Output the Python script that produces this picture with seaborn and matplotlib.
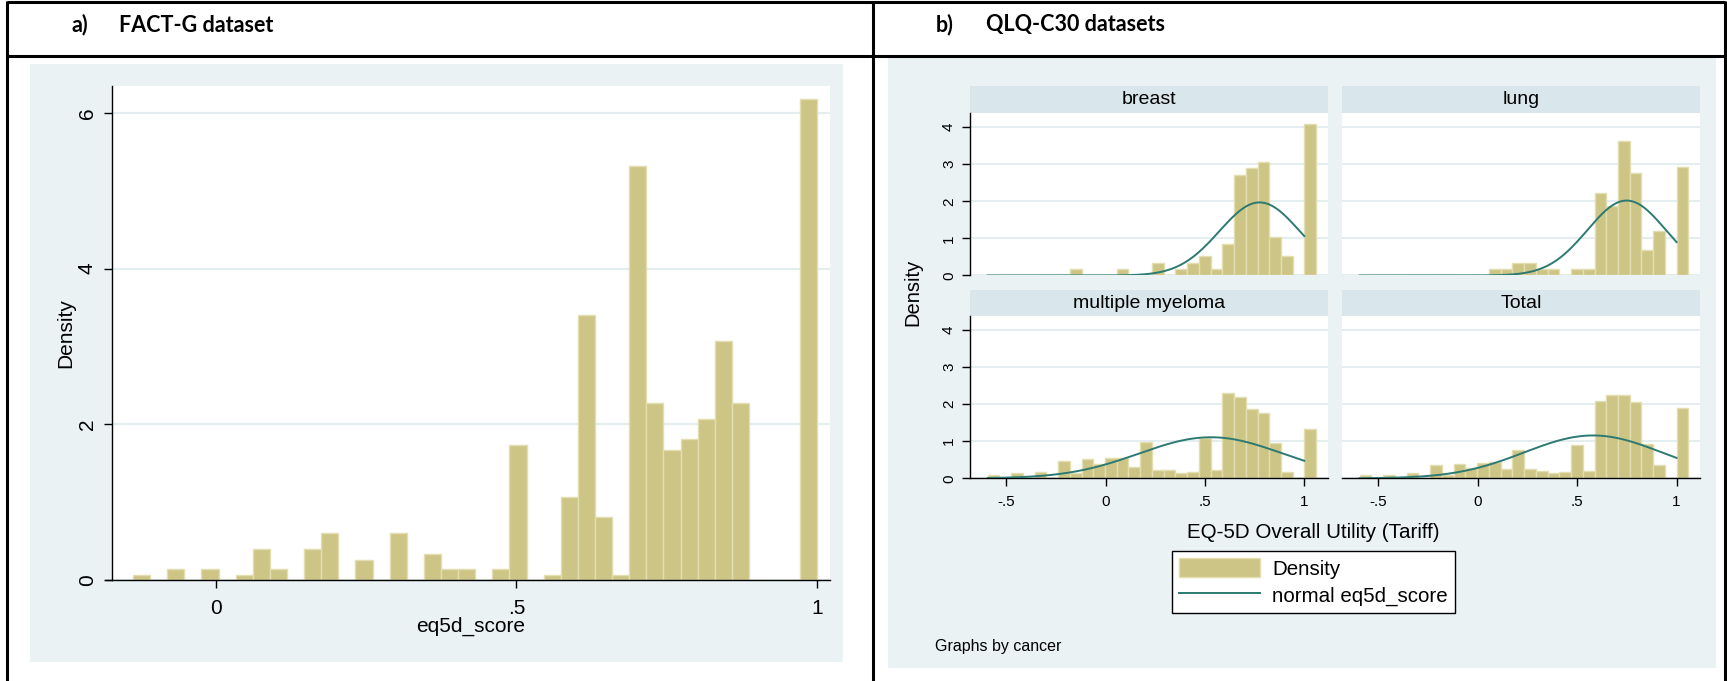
import numpy as np
import pandas as pd
import matplotlib
matplotlib.use("Agg")
import matplotlib.pyplot as plt
import seaborn as sns
from matplotlib.lines import Line2D
from matplotlib.patches import Rectangle

# ---------------- data ----------------
# a) FACT-G dataset histogram (40 bins)
a_bin_start = -0.137
a_bin_width = 0.028425
a_n_bins = 40
a_bin_index = [0, 2, 4, 6, 7, 8, 10, 11, 13, 15, 17, 18, 19, 21, 22, 24, 25,
               26, 27, 28, 29, 30, 31, 32, 33, 34, 35, 39]
a_density = [0.069, 0.142, 0.142, 0.069, 0.396, 0.142, 0.396, 0.606, 0.262,
             0.606, 0.34, 0.142, 0.142, 0.142, 1.733, 0.069, 1.067, 3.407,
             0.804, 0.069, 5.318, 2.275, 1.669, 1.81, 2.069, 3.075, 2.275, 6.183]
a_xticks = [0, 0.5, 1]
a_xticklabels = ["0", ".5", "1"]
a_yticks = [0, 2, 4, 6]

# b) QLQ-C30 datasets (28 common bins)
b_bin_start = -0.594
b_bin_width = 0.05907
b_n_bins = 28
panel_names = ["breast", "lung", "multiple myeloma", "Total"]
breast_index = [7, 11, 14, 16, 17, 18, 19, 20, 21, 22, 23, 24, 25, 27]
breast_density = [0.17, 0.17, 0.33, 0.17, 0.33, 0.52, 0.17, 0.86, 2.72, 2.89,
                  3.06, 1.03, 0.52, 4.09]
lung_index = [11, 12, 13, 14, 15, 16, 18, 19, 20, 21, 22, 23, 24, 25, 27]
lung_density = [0.17, 0.17, 0.35, 0.35, 0.17, 0.17, 0.17, 0.17, 2.23, 1.88,
                3.62, 2.75, 0.70, 1.20, 2.92]
mm_index = [0, 2, 4, 6, 7, 8, 9, 10, 11, 12, 13, 14, 15, 16, 17, 18, 19, 20,
            21, 22, 23, 24, 25, 27]
mm_density = [0.08, 0.13, 0.18, 0.47, 0.15, 0.51, 0.38, 0.54, 0.54, 0.30, 0.98,
              0.22, 0.23, 0.13, 0.18, 1.10, 0.22, 2.29, 2.20, 1.87, 1.75, 0.96,
              0.18, 1.34]
total_index = [0, 2, 4, 6, 7, 8, 9, 10, 11, 12, 13, 14, 15, 16, 17, 18, 19, 20,
               21, 22, 23, 24, 25, 27]
total_density = [0.08, 0.08, 0.14, 0.36, 0.10, 0.38, 0.29, 0.41, 0.44, 0.24,
                 0.76, 0.24, 0.20, 0.14, 0.18, 0.91, 0.20, 2.09, 2.24, 2.24,
                 2.05, 0.92, 0.35, 1.89]
# fitted normal overlay (mean, sd) per panel
normal_mean = [0.775, 0.749, 0.53, 0.58]
normal_sd = [0.2025, 0.1975, 0.36, 0.345]
score_min, score_max = -0.594, 1.0
b_xticks = [-0.5, 0, 0.5, 1]
b_xticklabels = ["-.5", "0", ".5", "1"]
b_yticks = [0, 1, 2, 3, 4]

# ---------------- style ----------------
BG = "#EAF2F3"
STRIP = "#D9E6EB"
GRID = "#E4EDF0"
FILL = "#CDC585"
EDGE = "#E3DEAF"
LINE = "#2C7A72"
FONT = ["Liberation Sans", "DejaVu Sans"]
HFONT = ["Lato", "DejaVu Sans"]

plt.rcParams["font.family"] = FONT

W, H, DPI = 1727, 681, 100
fig = plt.figure(figsize=(W / DPI, H / DPI), dpi=DPI)
fig.patch.set_facecolor("white")


def box(x0, y0, x1, y1):
    return [x0 / W, 1 - y1 / H, (x1 - x0) / W, (y1 - y0) / H]


def fline(x0, y0, x1, y1, lw=2.2, color="black", z=5):
    fig.add_artist(Line2D([x0 / W, x1 / W], [1 - y0 / H, 1 - y1 / H],
                          transform=fig.transFigure, color=color, lw=lw,
                          solid_capstyle="butt", zorder=z))


def frect(x0, y0, x1, y1, color):
    fig.add_artist(Rectangle((x0 / W, 1 - y1 / H), (x1 - x0) / W, (y1 - y0) / H,
                             transform=fig.transFigure, facecolor=color,
                             edgecolor="none", zorder=0))


def ftext(x, y, s, **kw):
    fig.text(x / W, 1 - y / H, s, **kw)


def hist(ax, start, width, nbins, idx, dens):
    edges = [start + width * k for k in range(nbins + 1)]
    df = pd.DataFrame({"score": [start + width * (i + 0.5) for i in idx],
                       "density": dens})
    sns.histplot(data=df, x="score", weights="density", bins=edges,
                 stat="count", color=FILL, edgecolor=EDGE, linewidth=1.0,
                 alpha=1, ax=ax, zorder=2)


# table frame
fline(7, 2, 1725, 2)
fline(7, 56, 1725, 56)
fline(7, 1, 7, 681)
fline(873, 1, 873, 681)
fline(1725, 1, 1725, 681)

# headers
ftext(72, 25, "a)", fontsize=15.5, family=HFONT, weight="bold", va="center")
ftext(119, 25, "FACT-G dataset", fontsize=15.5, family=HFONT, weight="bold", va="center")
ftext(936, 25, "b)", fontsize=15.5, family=HFONT, weight="bold", va="center")
ftext(986, 25, "QLQ-C30 datasets", fontsize=15.5, family=HFONT, weight="bold", va="center")

# grey graph regions
frect(30, 64, 843, 662, BG)
frect(888, 58, 1716, 668, BG)

# ---------------- panel a ----------------
axa = fig.add_axes(box(112, 86, 830, 580))
axa.set_facecolor("white")
hist(axa, a_bin_start, a_bin_width, a_n_bins, a_bin_index, a_density)
axa.set_xlim(-0.172, 1.021)
axa.set_ylim(0, 6.347)
axa.set_xticks(a_xticks)
axa.set_xticklabels(a_xticklabels)
axa.set_yticks(a_yticks)
axa.set_yticklabels([str(v) for v in a_yticks], rotation=90, va="center")
axa.tick_params(axis="x", length=6, width=1, pad=8, labelsize=15)
axa.tick_params(axis="y", length=6, width=1, pad=5, labelsize=15)
axa.yaxis.grid(True, color=GRID, lw=1.6)
axa.set_axisbelow(True)
for s in ["top", "right"]:
    axa.spines[s].set_visible(False)
for s in ["left", "bottom"]:
    axa.spines[s].set_color("black")
    axa.spines[s].set_linewidth(1)
axa.set_xlabel("")
axa.set_ylabel("")
# x axis line runs a little left of the y axis, as in Stata
fline(105, 580, 112, 580, lw=1, z=3)
ftext(471, 626, "eq5d_score", fontsize=15, ha="center", va="center")
ftext(66, 333, "Density", fontsize=15, ha="center", va="center", rotation=90)

# ---------------- panel b ----------------
b_idx = [breast_index, lung_index, mm_index, total_index]
b_den = [breast_density, lung_density, mm_density, total_density]
cols = [(970, 1327.7), (1342, 1700)]
rows = [(86, 113, 275.5), (290, 316, 478.3)]
curve_x = np.linspace(score_min, score_max, 300)

axes_b = []
for p, name in enumerate(panel_names):
    r, c = divmod(p, 2)
    x0, x1 = cols[c]
    s0, s1, yb = rows[r]
    # strip
    axs = fig.add_axes(box(x0, s0, x1, s1))
    axs.set_facecolor(STRIP)
    axs.set_xticks([])
    axs.set_yticks([])
    for sp in axs.spines.values():
        sp.set_visible(False)
    axs.text(0.5, 0.5, name, transform=axs.transAxes, ha="center",
             va="center", fontsize=14)
    # plot
    ax = fig.add_axes(box(x0, s1, x1, yb))
    ax.set_facecolor("white")
    hist(ax, b_bin_start, b_bin_width, b_n_bins, b_idx[p], b_den[p])
    mu, sd = normal_mean[p], normal_sd[p]
    curve_y = np.exp(-0.5 * ((curve_x - mu) / sd) ** 2) / (sd * np.sqrt(2 * np.pi))
    sns.lineplot(x=curve_x, y=curve_y, ax=ax, color=LINE, lw=1.4, zorder=3)
    ax.set_xlim(-0.683, 1.118)
    ax.set_ylim(0, 4.38)
    ax.set_yticks(b_yticks)
    ax.yaxis.grid(True, color=GRID, lw=1.4)
    ax.set_axisbelow(True)
    ax.set_xlabel("")
    ax.set_ylabel("")
    for s in ["top", "right"]:
        ax.spines[s].set_visible(False)
    ax.spines["bottom"].set_color("black")
    ax.spines["bottom"].set_linewidth(1)
    ax.spines["left"].set_color("black")
    ax.spines["left"].set_linewidth(1)
    if c == 0:
        ax.set_yticklabels([str(v) for v in b_yticks], rotation=90, va="center")
        ax.tick_params(axis="y", length=6, width=1, pad=4, labelsize=11)
    else:
        ax.spines["left"].set_visible(False)
        ax.tick_params(axis="y", length=0, labelleft=False)
    if r == 1:
        ax.set_xticks(b_xticks)
        ax.set_xticklabels(b_xticklabels)
        ax.tick_params(axis="x", length=6, width=1, pad=6, labelsize=11)
    else:
        ax.set_xticks([])
        ax.spines["bottom"].set_visible(False)
    axes_b.append(ax)

ftext(913, 292, "Density", fontsize=14.5, ha="center", va="center", rotation=90)
ftext(1313, 533, "EQ-5D Overall Utility (Tariff)", fontsize=14.8, ha="center",
      va="center")
ftext(935, 647, "Graphs by cancer", fontsize=11.5, ha="left", va="center")

handles = [axes_b[0].patches[0], axes_b[0].lines[0]]
leg = fig.legend(handles, ["Density", "normal eq5d_score"], loc="center",
                 bbox_to_anchor=(1313.5 / W, 1 - 582 / H), fontsize=14.8,
                 frameon=True, fancybox=False, framealpha=1, edgecolor="black",
                 handlelength=3.9, handleheight=1.05, handletextpad=0.6,
                 borderpad=0.35, labelspacing=0.3, borderaxespad=0)
leg.get_frame().set_linewidth(1)

fig.savefig("out.png", dpi=DPI, facecolor="white")
